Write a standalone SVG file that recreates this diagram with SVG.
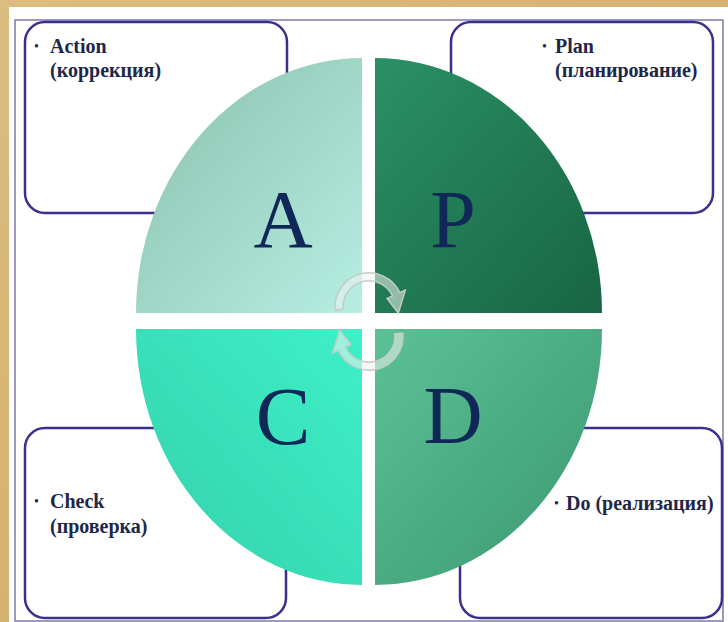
<svg xmlns="http://www.w3.org/2000/svg" width="728" height="622" viewBox="0 0 728 622">
<style>
.box{fill:#ffffff;stroke:#3b318a;stroke-width:2.5}
.lbl{font-family:"Liberation Serif","Times New Roman",serif;font-weight:bold;font-size:20px;fill:#1e2748}
.bul{font-family:"Liberation Serif","Times New Roman",serif;font-size:14px;fill:#1e2748}
.big{font-family:"Liberation Serif","Times New Roman",serif;font-size:82px;fill:#0f2858;text-anchor:middle}
.arr{fill:#eef3f1;fill-opacity:0.55;stroke:#c4ccc8;stroke-width:1.5}
</style>
<defs>
<linearGradient id="bg" x1="0" y1="0" x2="1" y2="1">
<stop offset="0" stop-color="#dcbd80"/>
<stop offset="0.5" stop-color="#d4b272"/>
<stop offset="1" stop-color="#dfc48c"/>
</linearGradient>
<linearGradient id="gA" x1="0" y1="0" x2="1" y2="1">
<stop offset="0" stop-color="#8abfab"/>
<stop offset="1" stop-color="#b6eee3"/>
</linearGradient>
<linearGradient id="gP" x1="0" y1="0" x2="1" y2="1">
<stop offset="0" stop-color="#2b9066"/>
<stop offset="1" stop-color="#186543"/>
</linearGradient>
<linearGradient id="gC" x1="1" y1="0" x2="0" y2="1">
<stop offset="0" stop-color="#3ff0c8"/>
<stop offset="1" stop-color="#33d0aa"/>
</linearGradient>
<linearGradient id="gD" x1="0" y1="0" x2="1" y2="1">
<stop offset="0" stop-color="#5cc196"/>
<stop offset="1" stop-color="#3a9770"/>
</linearGradient>
</defs>
<rect x="0" y="0" width="728" height="622" fill="url(#bg)"/>
<rect x="9" y="7" width="719" height="615" fill="#ffffff"/>
<rect x="15" y="20" width="708" height="601" fill="none" stroke="#7c79a8" stroke-width="1.5"/>
<g id="box-action"><rect class="box" x="25" y="22" width="262" height="191" rx="20"/>
<text class="bul" x="34" y="51">•</text>
<text class="lbl" x="50" y="53">Action</text>
<text class="lbl" x="50" y="77">(коррекция)</text></g>
<g id="box-plan"><rect class="box" x="451" y="22" width="262" height="191" rx="20"/>
<text class="bul" x="542" y="51">•</text>
<text class="lbl" x="555" y="53">Plan</text>
<text class="lbl" x="555" y="77">(планирование)</text></g>
<g id="box-check"><rect class="box" x="25" y="428" width="261" height="190" rx="20"/>
<text class="bul" x="34" y="506">•</text>
<text class="lbl" x="50" y="508">Check</text>
<text class="lbl" x="50" y="533">(проверка)</text></g>
<g id="box-do"><rect class="box" x="460" y="428" width="262" height="190" rx="20"/>
<text class="bul" x="554" y="508">•</text>
<text class="lbl" x="566" y="510">Do (реализация)</text></g>
<g id="quad-A"><path d="M362,313 L136,313 A226,255 0 0 1 362,58 Z" fill="url(#gA)"/>
<text class="big" x="283" y="247">A</text></g>
<g id="quad-P"><path d="M375,313 L375,58 A227,255 0 0 1 602,313 Z" fill="url(#gP)"/>
<text class="big" x="453" y="247">P</text></g>
<g id="quad-C"><path d="M362,329 L362,585 A226,256 0 0 1 136,329 Z" fill="url(#gC)"/>
<text class="big" x="283" y="444">C</text></g>
<g id="quad-D"><path d="M375,329 L602,329 A227,256 0 0 1 375,585 Z" fill="url(#gD)"/>
<text class="big" x="453" y="443">D</text></g>
<g id="connectors">
<path class="arr" d="M335.1,310 A34,34 0 0 1 399.8,292.6 L405.3,290.1 L398.3,313.2 L387.1,298.5 L392.6,296 A26,26 0 0 0 343.1,309.3 Z"/>
<path class="arr" transform="rotate(180 369 321.5)" d="M335.1,310 A34,34 0 0 1 399.8,292.6 L405.3,290.1 L398.3,313.2 L387.1,298.5 L392.6,296 A26,26 0 0 0 343.1,309.3 Z"/>
</g>
</svg>
